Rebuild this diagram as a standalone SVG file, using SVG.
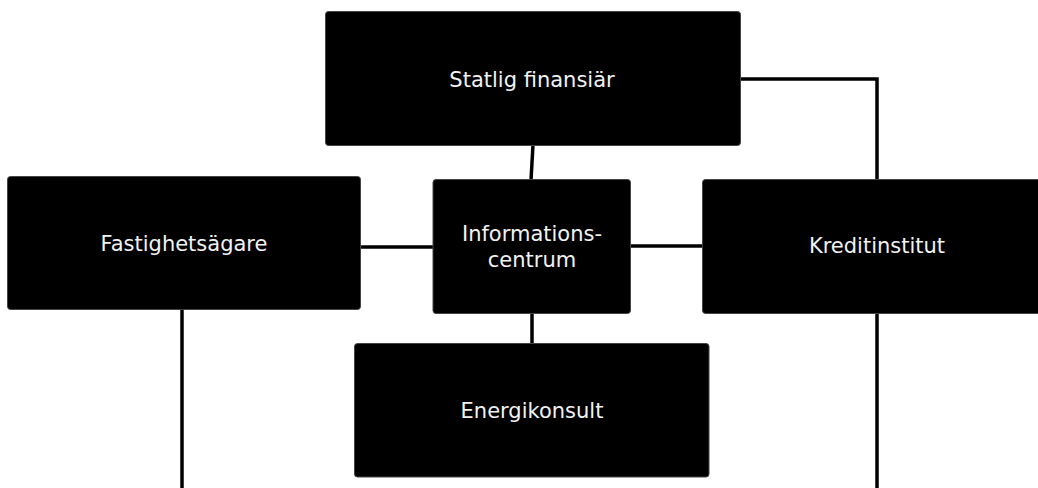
<svg xmlns="http://www.w3.org/2000/svg" width="1038" height="488" viewBox="0 0 1038 488">
  <style>
    .box { fill: #000; stroke: #444; stroke-width: 1; }
    .label { fill: #f2f2f2; font-family: "DejaVu Sans", Verdana, sans-serif; font-size: 21px; text-anchor: middle; }
    .link { fill: none; stroke: #000; stroke-width: 3.5; }
  </style>
  <rect width="1038" height="488" fill="#fff"/>

  <!-- connectors -->
  <g id="connectors">
    <line class="link" x1="533" y1="145" x2="531" y2="180"/>
    <line class="link" x1="360" y1="247" x2="434" y2="247"/>
    <line class="link" x1="630" y1="246" x2="703" y2="246"/>
    <line class="link" x1="532" y1="313" x2="532" y2="344"/>
    <polyline class="link" points="740,79 877,79 877,180"/>
    <line class="link" x1="182" y1="309" x2="182" y2="488"/>
    <line class="link" x1="877" y1="313" x2="877" y2="488"/>
  </g>

  <g id="statlig-finansiar">
    <rect class="box" x="325.5" y="11.5" width="415" height="134" rx="3"/>
    <text class="label" x="532" y="87">Statlig finansiär</text>
  </g>

  <g id="fastighetsagare">
    <rect class="box" x="7.5" y="176.5" width="353" height="133" rx="3"/>
    <text class="label" x="184" y="251">Fastighetsägare</text>
  </g>

  <g id="informationscentrum">
    <rect class="box" x="433" y="179.5" width="197.5" height="134" rx="3"/>
    <text class="label" x="532" y="241">Informations-</text>
    <text class="label" x="532" y="267">centrum</text>
  </g>

  <g id="kreditinstitut">
    <rect class="box" x="702.5" y="179.5" width="345" height="134" rx="3"/>
    <text class="label" x="877" y="253">Kreditinstitut</text>
  </g>

  <g id="energikonsult">
    <rect class="box" x="354.5" y="343.5" width="354.5" height="133.5" rx="3"/>
    <text class="label" x="532" y="418">Energikonsult</text>
  </g>
</svg>
